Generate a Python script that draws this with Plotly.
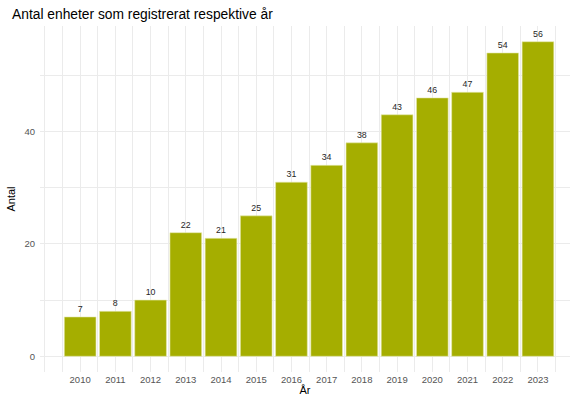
import plotly.graph_objects as go

# Number of units registered per year
years = [2010, 2011, 2012, 2013, 2014, 2015, 2016, 2017, 2018, 2019, 2020, 2021, 2022, 2023]
counts = [7, 8, 10, 22, 21, 25, 31, 34, 38, 43, 46, 47, 54, 56]

title_text = "Antal enheter som registrerat respektive år"
x_title = "År"
y_title = "Antal"
y_ticks = [0, 20, 40]

bar_color = "#A5AE00"
grid_color = "#EBEBEB"
font_family = "Liberation Sans, Arial, sans-serif"

fig = go.Figure(
    go.Bar(
        x=years,
        y=counts,
        width=0.9,
        marker=dict(color=bar_color, line=dict(color="#E6EAB0", width=0.6)),
        text=[str(c) for c in counts],
        textposition="outside",
        textfont=dict(size=8.8, color="#262626", family=font_family),
        cliponaxis=False,
        hoverinfo="x+y",
    )
)

fig.update_layout(
    width=570,
    height=396,
    margin=dict(l=40, r=0, t=26, b=24),
    paper_bgcolor="white",
    plot_bgcolor="white",
    font=dict(family=font_family, color="#4D4D4D"),
    showlegend=False,
    title=dict(
        text=title_text,
        x=12 / 570,
        xref="container",
        xanchor="left",
        y=1 - 14 / 396,
        yref="container",
        yanchor="middle",
        font=dict(size=13.8, color="#000000", family=font_family),
    ),
    uniformtext=dict(minsize=8, mode="show"),
)

fig.update_xaxes(
    range=[2008.86, 2023.91],
    tickmode="array",
    tickvals=years,
    ticktext=[str(y) for y in years],
    tickfont=dict(size=9.5, color="#555555"),
    showgrid=True,
    gridcolor=grid_color,
    gridwidth=1,
    minor=dict(dtick=0.5, tick0=2009, showgrid=True, gridcolor=grid_color, gridwidth=1),
    zeroline=False,
    showline=False,
    ticks="",
    title=dict(text=x_title, font=dict(size=11, color="#000000"), standoff=2),
)

fig.update_yaxes(
    range=[-2.8, 58.8],
    tickmode="array",
    tickvals=y_ticks,
    tickfont=dict(size=9.5, color="#555555"),
    showgrid=True,
    gridcolor=grid_color,
    gridwidth=1,
    minor=dict(dtick=10, tick0=0, showgrid=True, gridcolor=grid_color, gridwidth=1),
    zeroline=False,
    showline=False,
    ticks="",
    ticklabelstandoff=4,
    title=dict(text=y_title, font=dict(size=11, color="#000000"), standoff=6),
)

fig.write_html("out.html")
